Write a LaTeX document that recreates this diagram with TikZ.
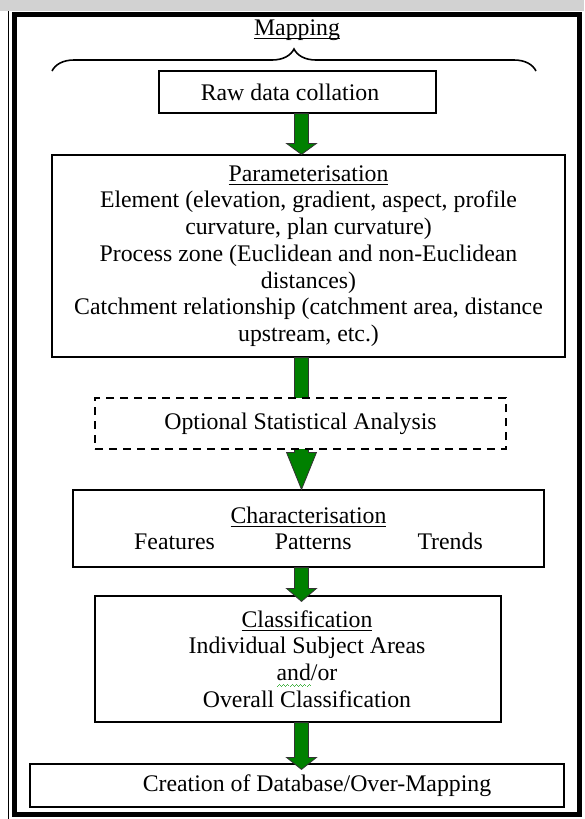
\documentclass[tikz,border=0pt]{standalone}
\usepackage{fontspec}
\setmainfont{Liberation Serif}
\usetikzlibrary{calc,positioning,decorations.pathreplacing}
\definecolor{arrowgreen}{RGB}{0,128,0}
\definecolor{wavegreen}{RGB}{70,180,70}
\newcommand{\ulin}[1]{\setbox0\hbox{#1}\leavevmode\rlap{\rule[-3.5pt]{\wd0}{1.1pt}}\box0}
\newcommand{\wavebit}{\hbox{\rule[0pt]{1pt}{1.1pt}\rule[1pt]{1pt}{1.1pt}\rule[2pt]{1pt}{1.1pt}\rule[1pt]{1pt}{1.1pt}}}
\newcommand{\grammarwave}[1]{\setbox0\hbox{#1}\leavevmode\rlap{\lower6pt\hbox to \wd0{\color{wavegreen}\xleaders\wavebit\hfill}}\box0}

\begin{document}
\begin{tikzpicture}[x=1pt,y=-1pt,font={\fontsize{23.8}{26.7}\selectfont},
  box/.style={draw,line width=1.2pt,fill=white,inner sep=0pt,align=center},
  optbox/.style={box,dash pattern=on 8pt off 6pt},
  arrowbody/.style={fill=arrowgreen,draw=black!80,line width=0.8pt,line join=miter}]
  \useasboundingbox (0,0) rectangle (584,819);
  % --- ramecek okna ---
  \fill[gray!35] (0,0) rectangle (584,11);
  \draw[line width=1pt] (8.5,11) -- (8.5,819);
  \draw[line width=5pt] (14.5,14.5) rectangle (579.5,814.5);
  % --- nadpis a slozena zavorka ---
  \node (map) at (297,30) {\ulin{Mapping}};
  \coordinate (brl) at (52,71);
  \coordinate (brr) at (536,71);
  \draw[decorate,decoration={brace,amplitude=22pt},line width=1.6pt] (brl) -- (brr);
  % --- bloky ---
  \node[box,minimum width=277pt,minimum height=42pt] (raw) at (297.5,92) {};
  \node (rawtxt) at (290,92) {Raw data collation};
  \node[box,minimum width=513pt,minimum height=202pt] (param) at (308.5,256)
    {\ulin{Parameterisation}\\
     Element (elevation, gradient, aspect, profile\\
     curvature, plan curvature)\\
     Process zone (Euclidean and non-Euclidean\\
     distances)\\
     Catchment relationship (catchment area, distance\\
     upstream, etc.)};
  \node[box,minimum width=471pt,minimum height=77pt] (char) at (308.5,528.5)
    {\ulin{Characterisation}\\
     Features\hspace{60pt}Patterns\hspace{66pt}Trends};
  \node[box,minimum width=406pt,minimum height=126pt] (class) at (298,659) {};
  \node[align=center] (classtxt) at (307,659)
    {\ulin{Classification}\\
     Individual Subject Areas\\
     \grammarwave{and}/or\\
     Overall Classification};
  \node[box,minimum width=534pt,minimum height=43pt] (creation) at (297,785.5) {};
  \node (creationtxt) at (317,786) {Creation of Database/Over-Mapping};
  % --- zelene sipky ---
  \coordinate (axis) at (301.5,0);
  \foreach \from/\to/\head/\over in {raw/param/11/0,param/char/37/0,char/class/13/6,class/creation/12/6}
    \draw[arrowbody] let \p1=(\from.south -| axis), \p2=(\to.north -| axis) in
      ({\x1-7pt},{\y1}) -- ({\x1-7pt},{\y2-\over*1pt+\head*1pt}) -- ({\x1-15pt},{\y2-\over*1pt+\head*1pt})
      -- ({\x1},{\y2-\over*1pt}) -- ({\x1+15pt},{\y2-\over*1pt+\head*1pt})
      -- ({\x1+7pt},{\y2-\over*1pt+\head*1pt}) -- ({\x1+7pt},{\y1}) -- cycle;
  % --- volitelny krok (prekryva sipku) ---
  \node[optbox,minimum width=411pt,minimum height=51pt] (stat) at (300.5,423.5) {Optional Statistical Analysis};
\end{tikzpicture}
\end{document}
